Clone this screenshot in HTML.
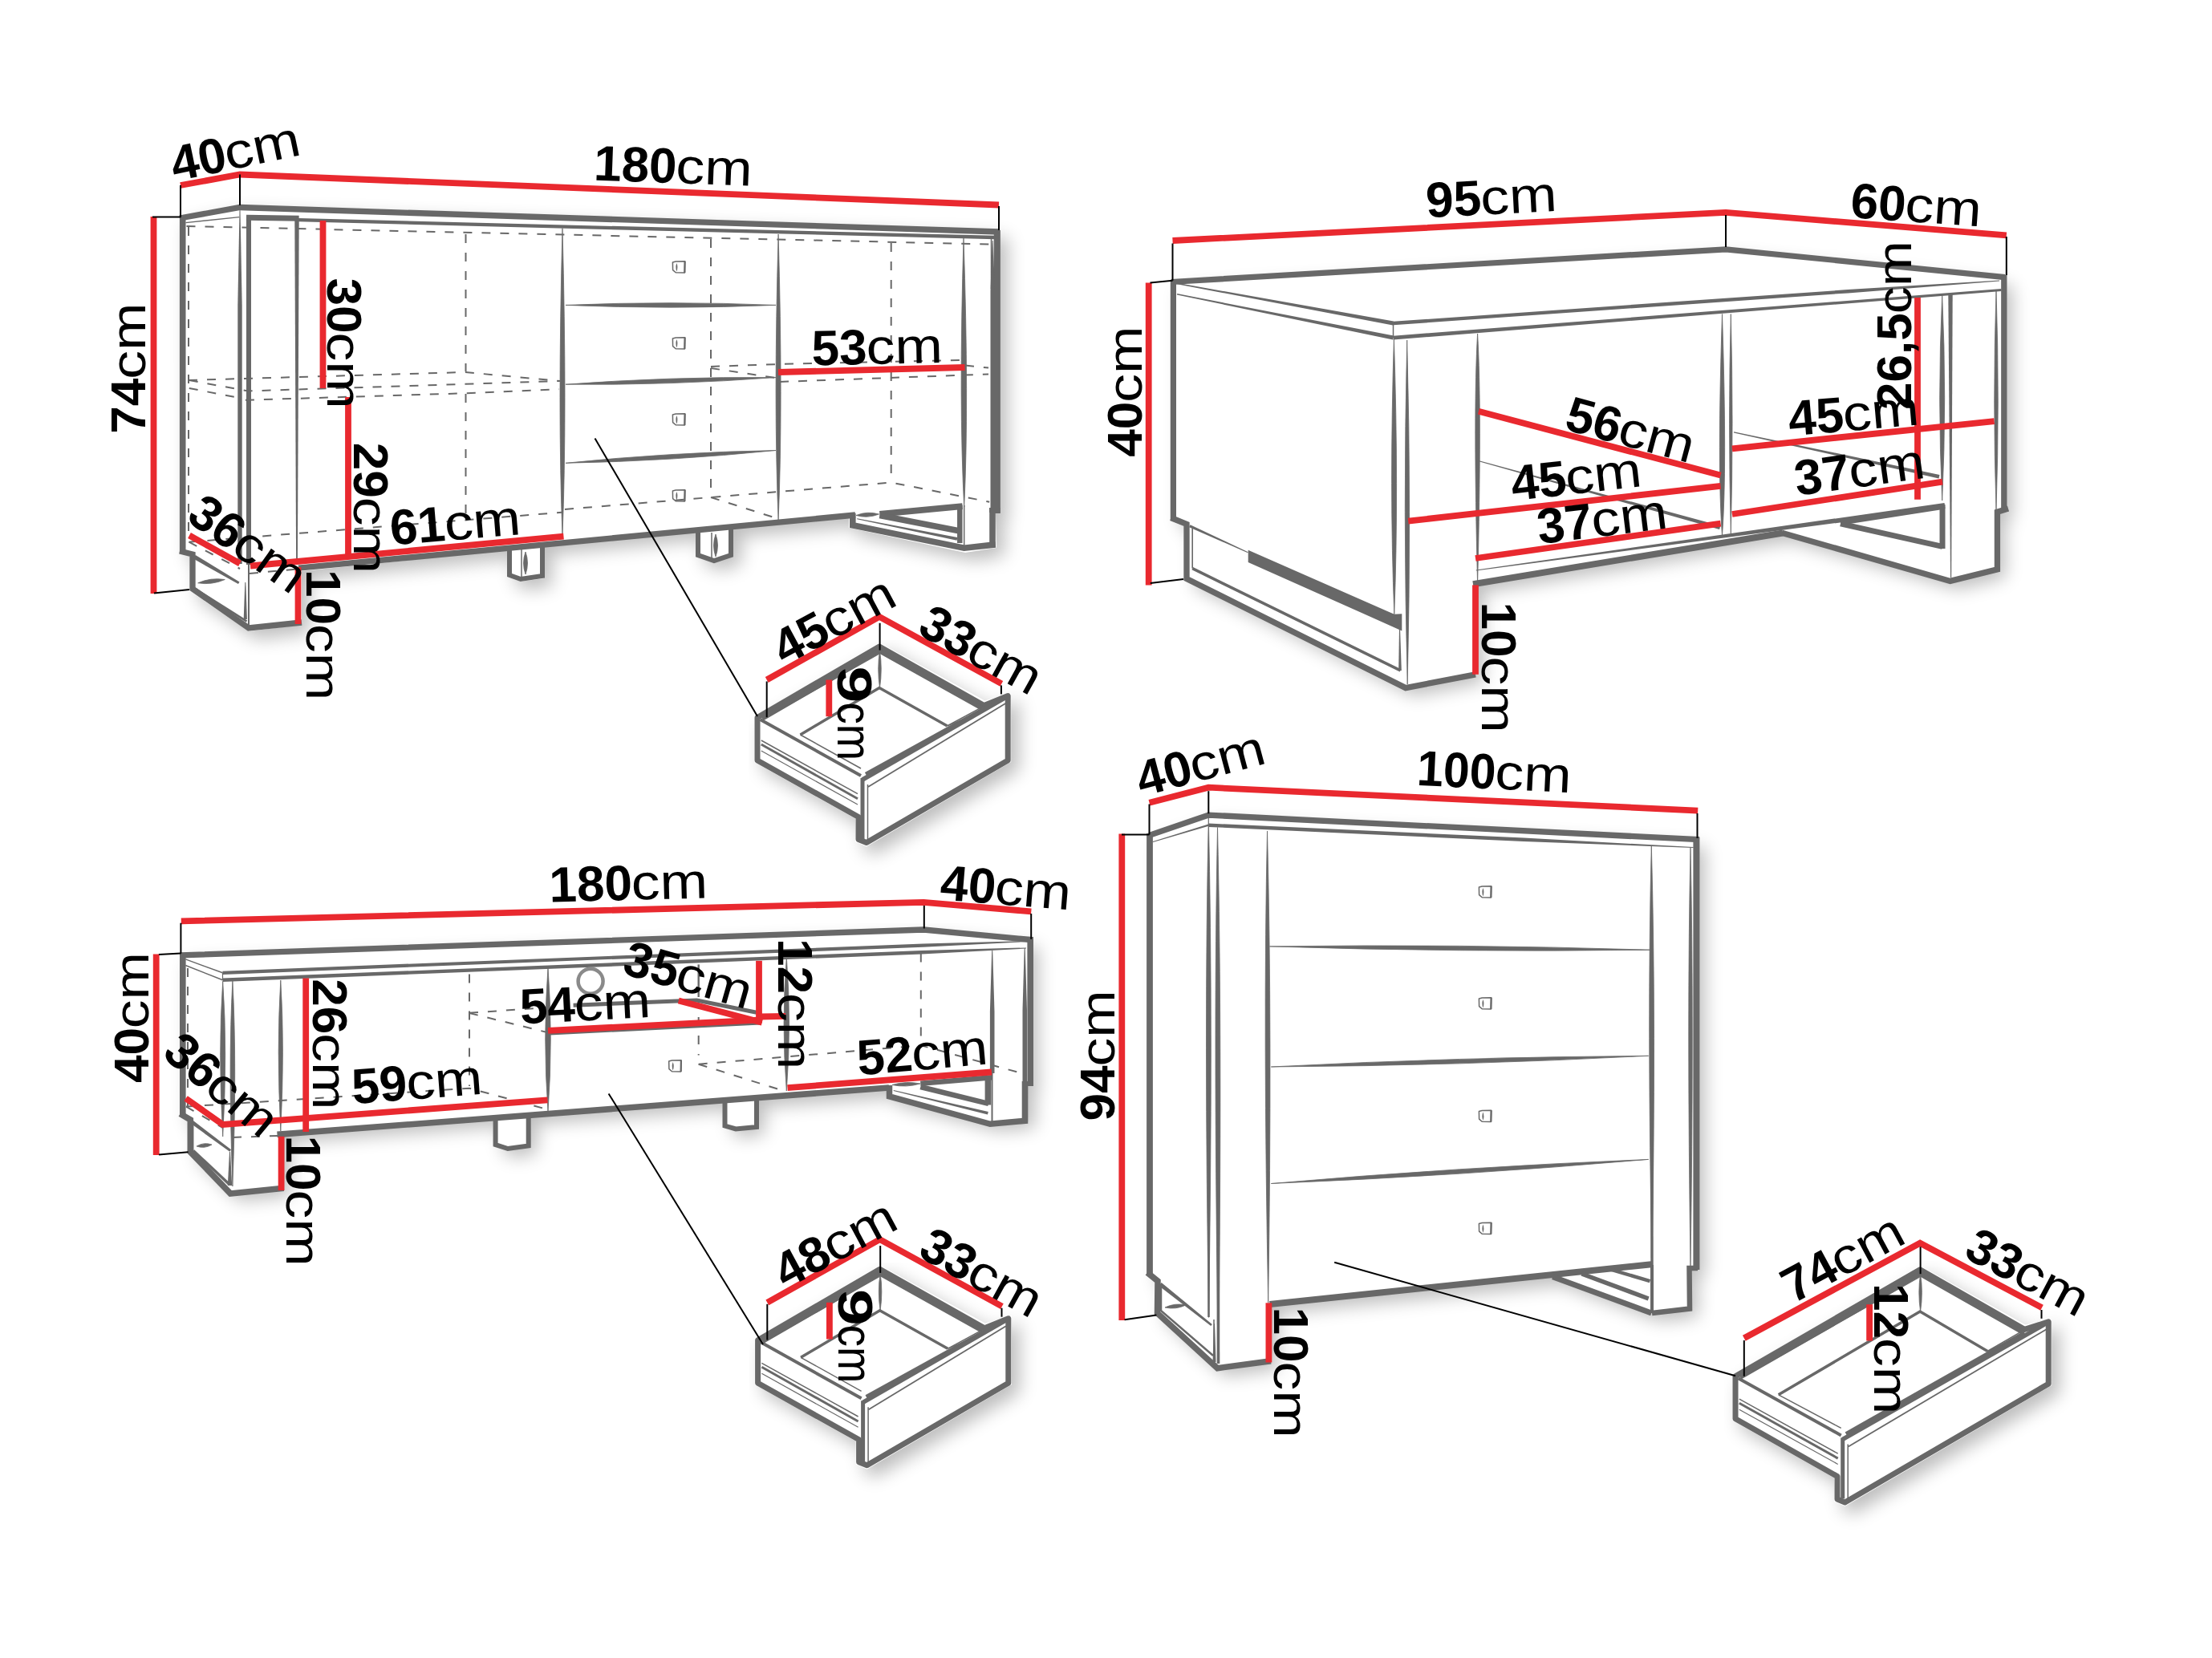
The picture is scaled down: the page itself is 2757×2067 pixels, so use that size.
<!DOCTYPE html><html><head><meta charset="utf-8"><title>dimensions</title><style>html,body{margin:0;padding:0;background:#fff}svg{display:block}text{font-family:"Liberation Sans",sans-serif;fill:#000}.b{font-weight:bold}.r{font-weight:normal}</style></head><body>
<svg width="2757" height="2067" viewBox="0 0 2757 2067">
<defs><filter id="sh" x="-5%" y="-5%" width="115%" height="120%"><feGaussianBlur in="SourceAlpha" stdDeviation="11"/><feOffset dx="10" dy="10"/><feComponentTransfer><feFuncA type="linear" slope="0.26"/></feComponentTransfer></filter></defs>
<rect width="2757" height="2067" fill="#fff"/>
<polygon points="224,269 299,255 1246,286 1246,640 1241,640 1242,683 1203,689 1058,658 1058,646 914,659 914,693 890,701 867,693 867,663 678,681 678,721 649,725 632,719 632,686 376,712 376,779 310,787 237,737 237,692 225,689" fill="#000" filter="url(#sh)"/>
<polygon points="940,893.5 1096,801 1227.5,873.5 1260.2,863.5 1260.2,950 1080,1055.5 1066,1049.5 1066,1020.5 940,950" fill="#000" filter="url(#sh)"/>
<polygon points="940.6,1669.8 1096.6,1577.3 1228.1,1649.8 1260.8,1639.8 1260.8,1726.3 1080.6,1831.8 1066.6,1825.8 1066.6,1796.8 940.6,1726.3" fill="#000" filter="url(#sh)"/>
<polygon points="2159,1714.7 2393.1,1577.8 2524.3,1651.4 2557.2,1643.9 2557.2,1727.2 2299.5,1878.1 2286,1872 2286,1842.6 2159,1770.7" fill="#000" filter="url(#sh)"/>
<polygon points="1462,351 2151,311 2498,346 2498,638 2489.4,638.2 2489.4,709.8 2430.7,724.4 2222,665 1839,728 1839,840.8 1752,857.6 1479,721.5 1479,653.4 1462,647" fill="#000" filter="url(#sh)"/>
<polygon points="1433,1041 1506,1016 2115,1046 2115,1581 2106,1581 2106,1632 2059,1637 1935,1592 1583,1627 1583,1697 1517,1705.7 1442.5,1637 1442.5,1597 1433,1589" fill="#000" filter="url(#sh)"/>
<polygon points="225,1190 1151,1158 1284,1171 1284,1354 1280,1354 1280,1396 1235,1400 1107,1367 1107,1358 943,1370 943,1404 917,1408 903,1404 903,1373 659,1391 659,1428 633,1433 617,1428 617,1394 352,1414 352,1481 288,1487 237,1437 237,1397 226,1392" fill="#000" filter="url(#sh)"/>
<polygon points="224,269 299,255 1246,286 1246,640 1241,640 1242,683 1203,689 1058,658 1058,646 914,659 914,693 890,701 867,693 867,663 678,681 678,721 649,725 632,719 632,686 376,712 376,779 310,787 237,737 237,692 225,689" fill="#fff"/>
<polygon points="940,893.5 1096,801 1227.5,873.5 1260.2,863.5 1260.2,950 1080,1055.5 1066,1049.5 1066,1020.5 940,950" fill="#fff"/>
<polygon points="940.6,1669.8 1096.6,1577.3 1228.1,1649.8 1260.8,1639.8 1260.8,1726.3 1080.6,1831.8 1066.6,1825.8 1066.6,1796.8 940.6,1726.3" fill="#fff"/>
<polygon points="2159,1714.7 2393.1,1577.8 2524.3,1651.4 2557.2,1643.9 2557.2,1727.2 2299.5,1878.1 2286,1872 2286,1842.6 2159,1770.7" fill="#fff"/>
<polygon points="1462,351 2151,311 2498,346 2498,638 2489.4,638.2 2489.4,709.8 2430.7,724.4 2222,665 1839,728 1839,840.8 1752,857.6 1479,721.5 1479,653.4 1462,647" fill="#fff"/>
<polygon points="1433,1041 1506,1016 2115,1046 2115,1581 2106,1581 2106,1632 2059,1637 1935,1592 1583,1627 1583,1697 1517,1705.7 1442.5,1637 1442.5,1597 1433,1589" fill="#fff"/>
<polygon points="225,1190 1151,1158 1284,1171 1284,1354 1280,1354 1280,1396 1235,1400 1107,1367 1107,1358 943,1370 943,1404 917,1408 903,1404 903,1373 659,1391 659,1428 633,1433 617,1428 617,1394 352,1414 352,1481 288,1487 237,1437 237,1397 226,1392" fill="#fff"/>
<g>
<polyline points="224,272 299,258.5 1246,289" fill="none" stroke="#686868" stroke-width="7.3" stroke-linejoin="miter" stroke-linecap="butt"/>
<line x1="227.7" y1="270" x2="227.7" y2="689" stroke="#686868" stroke-width="7.6" stroke-linecap="butt"/>
<line x1="1242.8" y1="287" x2="1242.8" y2="640" stroke="#686868" stroke-width="8.1" stroke-linecap="butt"/>
<polyline points="231.5,277.6 298.2,270.6" fill="none" stroke="#686868" stroke-width="1.4" stroke-linejoin="miter" stroke-linecap="butt"/>
<line x1="310" y1="704" x2="310" y2="271.3" stroke="#686868" stroke-width="6" stroke-linecap="butt"/>
<polygon points="367.3,272.3 369.1,702 370.9,702 372.7,272.3" fill="#686868"/>
<line x1="307" y1="271.3" x2="372.6" y2="272.3" stroke="#686868" stroke-width="7" stroke-linecap="butt"/>
<line x1="372" y1="274.2" x2="1240" y2="296" stroke="#686868" stroke-width="4.3" stroke-linecap="butt"/>
<line x1="372" y1="708.2" x2="1066" y2="642" stroke="#686868" stroke-width="7.3" stroke-linecap="butt"/>
<line x1="311" y1="715" x2="372" y2="709.3" stroke="#686868" stroke-width="2" stroke-linecap="butt" stroke-dasharray="11 12"/>
<polyline points="224,687 240,691 240,734 310,783 376,776" fill="none" stroke="#686868" stroke-width="7.3" stroke-linejoin="miter" stroke-linecap="butt"/>
<polygon points="240.9,696.6 296.9,728.1 298.5,725.5 243.7,692" fill="#686868"/>
<line x1="242.3" y1="733.4" x2="307.5" y2="774.6" stroke="#686868" stroke-width="2.7" stroke-linecap="butt"/>
<polygon points="305.3,726 303.7,772 307.9,772 306.3,726" fill="#686868"/>
<line x1="310" y1="704" x2="310" y2="781" stroke="#686868" stroke-width="2" stroke-linecap="butt"/>
<path d="M246.7,726.8 Q264.1,729.6 280.3,722.5 Q262.9,719.7 246.7,726.8Z" fill="#686868" stroke="#686868" stroke-width="0.8"/>
<polygon points="298.5,262 296.3,381.1 296.3,703 301.7,703 301.7,381.1 299.5,262" fill="#686868"/>
<path d="M701,284.5 Q695,514.6 701,668 Q707,514.6 701,284.5Z" fill="#686868" stroke="#686868" stroke-width="0.8"/>
<path d="M970.1,292 Q964.1,506 970.1,648.6 Q976.1,506 970.1,292Z" fill="#686868" stroke="#686868" stroke-width="0.8"/>
<path d="M1201,297 Q1194.9,504.7 1201.7,632 Q1207.9,504.7 1201,297Z" fill="#686868" stroke="#686868" stroke-width="0.8"/>
<line x1="1201.7" y1="630" x2="1201.7" y2="680" stroke="#686868" stroke-width="1.5" stroke-linecap="butt"/>
<line x1="1235.5" y1="296" x2="1235.5" y2="360" stroke="#686868" stroke-width="1.5" stroke-linecap="butt"/>
<polygon points="1236.7,300 1234.5,362.2 1234.5,636 1240,636 1240,362.2 1237.7,300" fill="#686868"/>
<path d="M705,380.4 Q836,385.9 967,380.4 Q836,374.9 705,380.4Z" fill="#686868" stroke="#686868" stroke-width="0.8"/>
<path d="M705,479.2 Q836.2,480.4 967,470.6 Q835.8,469.4 705,479.2Z" fill="#686868" stroke="#686868" stroke-width="0.8"/>
<path d="M705,577.3 Q836.3,574.9 967,561.5 Q835.7,563.9 705,577.3Z" fill="#686868" stroke="#686868" stroke-width="0.8"/>
<g transform="translate(846,333) scale(1.0)"><path d="M-7.6,-6 L-3.8,-7 L7.7,-7.2 L7.4,7 L-3.8,6.8 L-7.4,3.6 Z" fill="#fff" stroke="#686868" stroke-width="1.5" stroke-linejoin="round"/><path d="M7.6,-7.2 L7.3,7" stroke="#686868" stroke-width="2.2" fill="none"/><path d="M-2.6,-5 Q-0.6,0.2 -2.6,5.4 Q-4.6,0.2 -2.6,-5Z" fill="#686868"/></g>
<g transform="translate(846,428) scale(1.0)"><path d="M-7.6,-6 L-3.8,-7 L7.7,-7.2 L7.4,7 L-3.8,6.8 L-7.4,3.6 Z" fill="#fff" stroke="#686868" stroke-width="1.5" stroke-linejoin="round"/><path d="M7.6,-7.2 L7.3,7" stroke="#686868" stroke-width="2.2" fill="none"/><path d="M-2.6,-5 Q-0.6,0.2 -2.6,5.4 Q-4.6,0.2 -2.6,-5Z" fill="#686868"/></g>
<g transform="translate(846,523) scale(1.0)"><path d="M-7.6,-6 L-3.8,-7 L7.7,-7.2 L7.4,7 L-3.8,6.8 L-7.4,3.6 Z" fill="#fff" stroke="#686868" stroke-width="1.5" stroke-linejoin="round"/><path d="M7.6,-7.2 L7.3,7" stroke="#686868" stroke-width="2.2" fill="none"/><path d="M-2.6,-5 Q-0.6,0.2 -2.6,5.4 Q-4.6,0.2 -2.6,-5Z" fill="#686868"/></g>
<g transform="translate(846,618) scale(1.0)"><path d="M-7.6,-6 L-3.8,-7 L7.7,-7.2 L7.4,7 L-3.8,6.8 L-7.4,3.6 Z" fill="#fff" stroke="#686868" stroke-width="1.5" stroke-linejoin="round"/><path d="M7.6,-7.2 L7.3,7" stroke="#686868" stroke-width="2.2" fill="none"/><path d="M-2.6,-5 Q-0.6,0.2 -2.6,5.4 Q-4.6,0.2 -2.6,-5Z" fill="#686868"/></g>
<polyline points="635,682 635,717 649,722 676,718 676,680" fill="none" stroke="#686868" stroke-width="6" stroke-linejoin="miter" stroke-linecap="butt"/>
<line x1="650" y1="684" x2="650" y2="720" stroke="#686868" stroke-width="1.5" stroke-linecap="butt"/>
<path d="M655,688 Q650,702 655,716 Q660,702 655,688Z" fill="#686868" stroke="#686868" stroke-width="0.8"/>
<polyline points="870,661 870,692 890,699 911,692 911,658" fill="none" stroke="#686868" stroke-width="6" stroke-linejoin="miter" stroke-linecap="butt"/>
<line x1="887" y1="664" x2="887" y2="697" stroke="#686868" stroke-width="1.5" stroke-linecap="butt"/>
<path d="M892,666 Q887,680 892,694 Q897,680 892,666Z" fill="#686868" stroke="#686868" stroke-width="0.8"/>
<polyline points="1062.8,640 1062.8,654.8 1201.7,683.2 1240.8,678.9" fill="none" stroke="#686868" stroke-width="7.6" stroke-linejoin="miter" stroke-linecap="butt"/>
<line x1="1237" y1="633.3" x2="1237" y2="681" stroke="#686868" stroke-width="7.6" stroke-linecap="butt"/>
<line x1="1233" y1="636" x2="1246.5" y2="636" stroke="#686868" stroke-width="6" stroke-linecap="butt"/>
<line x1="1096.4" y1="640.9" x2="1199.6" y2="631.1" stroke="#686868" stroke-width="7.6" stroke-linecap="butt"/>
<line x1="1196.3" y1="629.5" x2="1196.3" y2="677" stroke="#686868" stroke-width="6.5" stroke-linecap="butt"/>
<line x1="1096.4" y1="642.5" x2="1196.3" y2="662" stroke="#686868" stroke-width="7.6" stroke-linecap="butt"/>
<polygon points="1068.1,647.3 1192.6,673.7 1193.4,669.9 1068.3,646.3" fill="#686868"/>
<path d="M1067,642.5 Q1081.5,646.7 1095.5,641 Q1081,636.8 1067,642.5Z" fill="#686868" stroke="#686868" stroke-width="0.8"/>
<polyline points="232.5,282 1234,304.5" fill="none" stroke="#686868" stroke-width="2" stroke-linejoin="miter" stroke-linecap="butt" stroke-dasharray="11 12"/>
<line x1="235" y1="283" x2="235" y2="668" stroke="#686868" stroke-width="2" stroke-linecap="butt" stroke-dasharray="11 12"/>
<line x1="580.5" y1="292" x2="580.5" y2="463" stroke="#686868" stroke-width="2" stroke-linecap="butt" stroke-dasharray="11 12"/>
<line x1="580.5" y1="491" x2="580.5" y2="648" stroke="#686868" stroke-width="2" stroke-linecap="butt" stroke-dasharray="11 12"/>
<polyline points="235,474 580,464 698,475" fill="none" stroke="#686868" stroke-width="2" stroke-linejoin="miter" stroke-linecap="butt" stroke-dasharray="11 12"/>
<polyline points="235.8,484 294.6,495.4" fill="none" stroke="#686868" stroke-width="2" stroke-linejoin="miter" stroke-linecap="butt" stroke-dasharray="11 12"/>
<polyline points="305.9,498.8 580.5,490.2 697,485.2" fill="none" stroke="#686868" stroke-width="2" stroke-linejoin="miter" stroke-linecap="butt" stroke-dasharray="11 12"/>
<polyline points="235.8,474 309.3,487.5 697,475" fill="none" stroke="#686868" stroke-width="2" stroke-linejoin="miter" stroke-linecap="butt" stroke-dasharray="11 12"/>
<polyline points="235.5,675.7 700,638.8" fill="none" stroke="#686868" stroke-width="2" stroke-linejoin="miter" stroke-linecap="butt" stroke-dasharray="11 12"/>
<polyline points="235.5,675.7 299,709" fill="none" stroke="#686868" stroke-width="2" stroke-linejoin="miter" stroke-linecap="butt" stroke-dasharray="11 12"/>
<line x1="886" y1="298" x2="886" y2="620" stroke="#686868" stroke-width="2" stroke-linecap="butt" stroke-dasharray="11 12"/>
<line x1="1110.7" y1="303" x2="1110.7" y2="601" stroke="#686868" stroke-width="2" stroke-linecap="butt" stroke-dasharray="11 12"/>
<polyline points="704,635 886,620 1110.7,601.5 1233.2,625.7" fill="none" stroke="#686868" stroke-width="2" stroke-linejoin="miter" stroke-linecap="butt" stroke-dasharray="11 12"/>
<polyline points="886,620 966,645.5" fill="none" stroke="#686868" stroke-width="2" stroke-linejoin="miter" stroke-linecap="butt" stroke-dasharray="11 12"/>
<polyline points="886,457 970,454 1201,449" fill="none" stroke="#686868" stroke-width="2" stroke-linejoin="miter" stroke-linecap="butt" stroke-dasharray="11 12"/>
<polyline points="886,459 970,471.5" fill="none" stroke="#686868" stroke-width="2" stroke-linejoin="miter" stroke-linecap="butt" stroke-dasharray="11 12"/>
<polyline points="972,476 1232,466.5" fill="none" stroke="#686868" stroke-width="2" stroke-linejoin="miter" stroke-linecap="butt" stroke-dasharray="11 12"/>
<polyline points="1203,455.5 1232,458.6" fill="none" stroke="#686868" stroke-width="2" stroke-linejoin="miter" stroke-linecap="butt" stroke-dasharray="11 12"/>
<polygon points="944,894.5 1096,806 1226.5,879.5 1256.2,867.5 1256.2,948 1080,1050.5 1070,1046.5 1070,1018.5 944,948" fill="none" stroke="#686868" stroke-width="7" stroke-linejoin="round" stroke-linecap="butt"/>
<polyline points="950,896 1096,811.5 1224,883" fill="none" stroke="#686868" stroke-width="5.5" stroke-linejoin="miter" stroke-linecap="butt"/>
<polyline points="997.5,916 1096,857.5 1180.6,905" fill="none" stroke="#686868" stroke-width="3.5" stroke-linejoin="miter" stroke-linecap="butt"/>
<path d="M1096.5,811 Q1093,834.2 1096.5,857.5 Q1100,834.2 1096.5,811Z" fill="#686868" stroke="#686868" stroke-width="0.8"/>
<line x1="956" y1="894" x2="1096" y2="815" stroke="#686868" stroke-width="1.2" stroke-linecap="butt"/>
<line x1="947.5" y1="897" x2="1073" y2="967" stroke="#686868" stroke-width="4" stroke-linecap="butt"/>
<line x1="948.8" y1="923" x2="1069" y2="989.7" stroke="#686868" stroke-width="1.5" stroke-linecap="butt"/>
<line x1="948.8" y1="928" x2="1069" y2="995.7" stroke="#686868" stroke-width="3" stroke-linecap="butt"/>
<line x1="948.8" y1="936" x2="1069" y2="1003" stroke="#686868" stroke-width="1.2" stroke-linecap="butt"/>
<line x1="997.5" y1="916" x2="1073" y2="958" stroke="#686868" stroke-width="1.5" stroke-linecap="butt"/>
<line x1="1079" y1="965" x2="1226.5" y2="883.5" stroke="#686868" stroke-width="4.5" stroke-linecap="butt"/>
<line x1="1075" y1="972" x2="1253.2" y2="869.5" stroke="#686868" stroke-width="5.5" stroke-linecap="butt"/>
<line x1="1082" y1="981" x2="1253.2" y2="877" stroke="#686868" stroke-width="1.8" stroke-linecap="butt"/>
<line x1="1075" y1="970" x2="1075" y2="1046" stroke="#686868" stroke-width="5" stroke-linecap="butt"/>
<line x1="1081.5" y1="978" x2="1081.5" y2="1048" stroke="#686868" stroke-width="1.5" stroke-linecap="butt"/>
<line x1="1180.6" y1="905" x2="1222.5" y2="882.3" stroke="#686868" stroke-width="1.5" stroke-linecap="butt"/>
<line x1="1180.6" y1="905" x2="1226.5" y2="886" stroke="#686868" stroke-width="1.2" stroke-linecap="butt"/>
<polygon points="944.6,1670.8 1096.6,1582.3 1227.1,1655.8 1256.8,1643.8 1256.8,1724.3 1080.6,1826.8 1070.6,1822.8 1070.6,1794.8 944.6,1724.3" fill="none" stroke="#686868" stroke-width="7" stroke-linejoin="round" stroke-linecap="butt"/>
<polyline points="950.6,1672.3 1096.6,1587.8 1224.6,1659.3" fill="none" stroke="#686868" stroke-width="5.5" stroke-linejoin="miter" stroke-linecap="butt"/>
<polyline points="998.1,1692.3 1096.6,1633.8 1181.2,1681.3" fill="none" stroke="#686868" stroke-width="3.5" stroke-linejoin="miter" stroke-linecap="butt"/>
<path d="M1097.1,1587.3 Q1093.6,1610.5 1097.1,1633.8 Q1100.6,1610.5 1097.1,1587.3Z" fill="#686868" stroke="#686868" stroke-width="0.8"/>
<line x1="956.6" y1="1670.3" x2="1096.6" y2="1591.3" stroke="#686868" stroke-width="1.2" stroke-linecap="butt"/>
<line x1="948.1" y1="1673.3" x2="1073.6" y2="1743.3" stroke="#686868" stroke-width="4" stroke-linecap="butt"/>
<line x1="949.4" y1="1699.3" x2="1069.6" y2="1766" stroke="#686868" stroke-width="1.5" stroke-linecap="butt"/>
<line x1="949.4" y1="1704.3" x2="1069.6" y2="1772" stroke="#686868" stroke-width="3" stroke-linecap="butt"/>
<line x1="949.4" y1="1712.3" x2="1069.6" y2="1779.3" stroke="#686868" stroke-width="1.2" stroke-linecap="butt"/>
<line x1="998.1" y1="1692.3" x2="1073.6" y2="1734.3" stroke="#686868" stroke-width="1.5" stroke-linecap="butt"/>
<line x1="1079.6" y1="1741.3" x2="1227.1" y2="1659.8" stroke="#686868" stroke-width="4.5" stroke-linecap="butt"/>
<line x1="1075.6" y1="1748.3" x2="1253.8" y2="1645.8" stroke="#686868" stroke-width="5.5" stroke-linecap="butt"/>
<line x1="1082.6" y1="1757.3" x2="1253.8" y2="1653.3" stroke="#686868" stroke-width="1.8" stroke-linecap="butt"/>
<line x1="1075.6" y1="1746.3" x2="1075.6" y2="1822.3" stroke="#686868" stroke-width="5" stroke-linecap="butt"/>
<line x1="1082.1" y1="1754.3" x2="1082.1" y2="1824.3" stroke="#686868" stroke-width="1.5" stroke-linecap="butt"/>
<line x1="1181.2" y1="1681.3" x2="1223.1" y2="1658.6" stroke="#686868" stroke-width="1.5" stroke-linecap="butt"/>
<line x1="1181.2" y1="1681.3" x2="1227.1" y2="1662.3" stroke="#686868" stroke-width="1.2" stroke-linecap="butt"/>
<polygon points="2163,1715.7 2393.1,1582.8 2523.3,1657.4 2553.2,1647.9 2553.2,1725.2 2299.5,1873.1 2290,1869 2290,1840.6 2163,1768.7" fill="none" stroke="#686868" stroke-width="7" stroke-linejoin="round" stroke-linecap="butt"/>
<polyline points="2169,1717.2 2393.1,1588.3 2520.8,1660.9" fill="none" stroke="#686868" stroke-width="5.5" stroke-linejoin="miter" stroke-linecap="butt"/>
<polyline points="2216.7,1738.8 2393.1,1635.1 2477.2,1684.5" fill="none" stroke="#686868" stroke-width="3.5" stroke-linejoin="miter" stroke-linecap="butt"/>
<path d="M2393.6,1587.8 Q2390.1,1611.4 2393.6,1635.1 Q2397.1,1611.4 2393.6,1587.8Z" fill="#686868" stroke="#686868" stroke-width="0.8"/>
<line x1="2175" y1="1715.2" x2="2393.1" y2="1591.8" stroke="#686868" stroke-width="1.2" stroke-linecap="butt"/>
<line x1="2166.5" y1="1718.2" x2="2294.7" y2="1789.4" stroke="#686868" stroke-width="4" stroke-linecap="butt"/>
<line x1="2167.8" y1="1744.2" x2="2290.7" y2="1812.1" stroke="#686868" stroke-width="1.5" stroke-linecap="butt"/>
<line x1="2167.8" y1="1749.2" x2="2290.7" y2="1818.1" stroke="#686868" stroke-width="3" stroke-linecap="butt"/>
<line x1="2167.8" y1="1757.2" x2="2290.7" y2="1825.4" stroke="#686868" stroke-width="1.2" stroke-linecap="butt"/>
<line x1="2216.7" y1="1738.8" x2="2294.7" y2="1780.4" stroke="#686868" stroke-width="1.5" stroke-linecap="butt"/>
<line x1="2300.7" y1="1787.4" x2="2523.3" y2="1661.4" stroke="#686868" stroke-width="4.5" stroke-linecap="butt"/>
<line x1="2296.7" y1="1794.4" x2="2550.2" y2="1649.9" stroke="#686868" stroke-width="5.5" stroke-linecap="butt"/>
<line x1="2303.7" y1="1803.4" x2="2550.2" y2="1657.4" stroke="#686868" stroke-width="1.8" stroke-linecap="butt"/>
<line x1="2296.7" y1="1792.4" x2="2296.7" y2="1868.5" stroke="#686868" stroke-width="5" stroke-linecap="butt"/>
<line x1="2303.2" y1="1800.4" x2="2303.2" y2="1870.6" stroke="#686868" stroke-width="1.5" stroke-linecap="butt"/>
<line x1="2477.2" y1="1684.5" x2="2519.3" y2="1660.2" stroke="#686868" stroke-width="1.5" stroke-linecap="butt"/>
<line x1="2477.2" y1="1684.5" x2="2523.3" y2="1663.9" stroke="#686868" stroke-width="1.2" stroke-linecap="butt"/>
<polyline points="1459.7,351.5 2151,310.8 2499,345.6" fill="none" stroke="#686868" stroke-width="7.2" stroke-linejoin="miter" stroke-linecap="butt"/>
<line x1="1462.4" y1="349" x2="1462.4" y2="648" stroke="#686868" stroke-width="7.2" stroke-linecap="butt"/>
<polyline points="1459.5,645.5 1479,653.4 1479,721.5 1752,857.6 1839,840.8" fill="none" stroke="#686868" stroke-width="7.3" stroke-linejoin="miter" stroke-linecap="butt"/>
<line x1="2497.8" y1="343" x2="2497.8" y2="638" stroke="#686868" stroke-width="7.3" stroke-linecap="butt"/>
<polyline points="2503,634 2489.4,638.2 2489.4,709.8 2430.7,724.4 2220.7,664.2" fill="none" stroke="#686868" stroke-width="7.3" stroke-linejoin="miter" stroke-linecap="butt"/>
<polygon points="1465.9,354 1736,405.6 1737,400.4 1466.1,352.6" fill="#686868"/>
<polygon points="1466.9,367.5 1736,423.6 1737,418.6 1467.1,366.1" fill="#686868"/>
<polygon points="2492,349.4 2303,361.1 1736.3,400.8 1736.7,405.2 2303.3,365.4 2492,350.6" fill="#686868"/>
<polygon points="1736.7,423.5 2494.6,363 2494.4,360 1736.3,418.7" fill="#686868"/>
<line x1="1736.5" y1="402" x2="1736.5" y2="421" stroke="#686868" stroke-width="1.5" stroke-linecap="butt"/>
<path d="M1737.4,422 Q1731.6,611.1 1737.8,765.8 Q1743.6,611.1 1737.4,422Z" fill="#686868" stroke="#686868" stroke-width="0.8"/>
<path d="M1753.7,424 Q1748.6,638.5 1754.2,853 Q1759.3,638.5 1753.7,424Z" fill="#686868" stroke="#686868" stroke-width="0.8"/>
<path d="M1841.6,416 Q1836.1,509.6 1841.6,728 Q1847.1,509.6 1841.6,416Z" fill="#686868" stroke="#686868" stroke-width="0.8"/>
<path d="M2146.5,391.5 Q2140.2,585 2146.5,668 Q2152.8,585 2146.5,391.5Z" fill="#686868" stroke="#686868" stroke-width="0.8"/>
<path d="M2157.3,391.5 Q2153.8,528.5 2157.3,665.4 Q2160.8,528.5 2157.3,391.5Z" fill="#686868" stroke="#686868" stroke-width="0.8"/>
<path d="M2420.7,367.8 Q2414.7,495.9 2420.7,624 Q2426.7,495.9 2420.7,367.8Z" fill="#686868" stroke="#686868" stroke-width="0.8"/>
<polygon points="2428.3,366 2431,720 2432.2,720 2433.7,366" fill="#686868"/>
<path d="M2488,361.5 Q2483.5,499.2 2488,637 Q2492.5,499.2 2488,361.5Z" fill="#686868" stroke="#686868" stroke-width="0.8"/>
<polygon points="1839.9,711.6 2424.5,634 2423.5,627 1839.7,710.4" fill="#686868"/>
<line x1="1836" y1="728.2" x2="2222" y2="664.5" stroke="#686868" stroke-width="8" stroke-linecap="butt"/>
<line x1="2294" y1="651.2" x2="2421" y2="631.6" stroke="#686868" stroke-width="7" stroke-linecap="butt"/>
<line x1="2421" y1="629" x2="2421" y2="684" stroke="#686868" stroke-width="7" stroke-linecap="butt"/>
<line x1="2294" y1="652.8" x2="2421" y2="681.3" stroke="#686868" stroke-width="7" stroke-linecap="butt"/>
<polygon points="1842.3,575.1 2143.1,659.9 2144.3,655.5 1842.7,573.9" fill="#686868"/>
<polygon points="2160.9,539.4 2416.5,596.5 2417.5,591.9 2161.1,538.2" fill="#686868"/>
<line x1="1486.2" y1="658.8" x2="1486.2" y2="708.6" stroke="#686868" stroke-width="1.6" stroke-linecap="butt"/>
<line x1="1486.2" y1="708.6" x2="1745.5" y2="835.9" stroke="#686868" stroke-width="3.6" stroke-linecap="butt"/>
<polygon points="1744,782.2 1743.2,836 1746.8,836 1745,782.2" fill="#686868"/>
<polygon points="1482.1,657.3 1555.2,689.2 1555.6,688.2 1483.5,654.3" fill="#686868"/>
<polygon points="1555.7,685.7 1555.7,700.9 1747.3,786.4 1747.3,765.2 1737.8,765.8" fill="#686868"/>
<polyline points="1432.5,1041.4 1506.3,1016.1 2118,1046.7" fill="none" stroke="#686868" stroke-width="7.3" stroke-linejoin="miter" stroke-linecap="butt"/>
<line x1="1433" y1="1039" x2="1433" y2="1590" stroke="#686868" stroke-width="7.8" stroke-linecap="butt"/>
<line x1="2114.4" y1="1044" x2="2114.4" y2="1583" stroke="#686868" stroke-width="8" stroke-linecap="butt"/>
<polygon points="1437.1,1050.1 1506.6,1029.8 1506,1027.6 1436.9,1049.1" fill="#686868"/>
<polygon points="2110.6,1056.1 1899.2,1044.5 1506.4,1026.5 1506.2,1030.9 1899,1049 2110.6,1056.9" fill="#686868"/>
<path d="M1506.3,1019.7 Q1500.6,1281.2 1506.5,1642.4 Q1512.2,1281.2 1506.3,1019.7Z" fill="#686868" stroke="#686868" stroke-width="0.8"/>
<line x1="1506.5" y1="1300" x2="1506.5" y2="1642" stroke="#686868" stroke-width="2.6" stroke-linecap="butt"/>
<path d="M1517.5,1031.5 Q1512.1,1298.9 1518.5,1700 Q1523.7,1298.9 1517.5,1031.5Z" fill="#686868" stroke="#686868" stroke-width="0.8"/>
<line x1="1518.2" y1="1300" x2="1518.5" y2="1700" stroke="#686868" stroke-width="3.6" stroke-linecap="butt"/>
<path d="M1579.5,1036 Q1574.2,1283.1 1580.7,1624.3 Q1585.8,1283.1 1579.5,1036Z" fill="#686868" stroke="#686868" stroke-width="0.8"/>
<path d="M2058.3,1054 Q2052.8,1273.8 2059,1577.3 Q2064.4,1273.8 2058.3,1054Z" fill="#686868" stroke="#686868" stroke-width="0.8"/>
<line x1="2058.7" y1="1300" x2="2059" y2="1577" stroke="#686868" stroke-width="3.4" stroke-linecap="butt"/>
<path d="M2107,1056.5 Q2102.5,1265.9 2107,1580 Q2111.5,1265.9 2107,1056.5Z" fill="#686868" stroke="#686868" stroke-width="0.8"/>
<path d="M1582.5,1179.9 Q1819.5,1187.5 2056.5,1184.2 Q1819.5,1176.6 1582.5,1179.9Z" fill="#686868" stroke="#686868" stroke-width="0.8"/>
<path d="M1584.3,1330 Q1819.7,1328.6 2054.7,1316.3 Q1819.3,1317.7 1584.3,1330Z" fill="#686868" stroke="#686868" stroke-width="0.8"/>
<path d="M1584.3,1475.5 Q1819.9,1465.9 2054.7,1445.4 Q1819.1,1455 1584.3,1475.5Z" fill="#686868" stroke="#686868" stroke-width="0.8"/>
<g transform="translate(1851,1112) scale(1.0)"><path d="M-7.6,-6 L-3.8,-7 L7.7,-7.2 L7.4,7 L-3.8,6.8 L-7.4,3.6 Z" fill="#fff" stroke="#686868" stroke-width="1.5" stroke-linejoin="round"/><path d="M7.6,-7.2 L7.3,7" stroke="#686868" stroke-width="2.2" fill="none"/><path d="M-2.6,-5 Q-0.6,0.2 -2.6,5.4 Q-4.6,0.2 -2.6,-5Z" fill="#686868"/></g>
<g transform="translate(1851,1251) scale(1.0)"><path d="M-7.6,-6 L-3.8,-7 L7.7,-7.2 L7.4,7 L-3.8,6.8 L-7.4,3.6 Z" fill="#fff" stroke="#686868" stroke-width="1.5" stroke-linejoin="round"/><path d="M7.6,-7.2 L7.3,7" stroke="#686868" stroke-width="2.2" fill="none"/><path d="M-2.6,-5 Q-0.6,0.2 -2.6,5.4 Q-4.6,0.2 -2.6,-5Z" fill="#686868"/></g>
<g transform="translate(1851,1391.5) scale(1.0)"><path d="M-7.6,-6 L-3.8,-7 L7.7,-7.2 L7.4,7 L-3.8,6.8 L-7.4,3.6 Z" fill="#fff" stroke="#686868" stroke-width="1.5" stroke-linejoin="round"/><path d="M7.6,-7.2 L7.3,7" stroke="#686868" stroke-width="2.2" fill="none"/><path d="M-2.6,-5 Q-0.6,0.2 -2.6,5.4 Q-4.6,0.2 -2.6,-5Z" fill="#686868"/></g>
<g transform="translate(1851,1531.5) scale(1.0)"><path d="M-7.6,-6 L-3.8,-7 L7.7,-7.2 L7.4,7 L-3.8,6.8 L-7.4,3.6 Z" fill="#fff" stroke="#686868" stroke-width="1.5" stroke-linejoin="round"/><path d="M7.6,-7.2 L7.3,7" stroke="#686868" stroke-width="2.2" fill="none"/><path d="M-2.6,-5 Q-0.6,0.2 -2.6,5.4 Q-4.6,0.2 -2.6,-5Z" fill="#686868"/></g>
<polyline points="1430,1586.5 1443,1597 1442.5,1637 1517.4,1705.7 1584,1696.7" fill="none" stroke="#686868" stroke-width="7.5" stroke-linejoin="miter" stroke-linecap="butt"/>
<line x1="1582.5" y1="1626" x2="2058.3" y2="1576.2" stroke="#686868" stroke-width="8" stroke-linecap="butt"/>
<polyline points="2116,1581 2105.5,1581 2106,1631.6 2059,1637" fill="none" stroke="#686868" stroke-width="6.5" stroke-linejoin="miter" stroke-linecap="butt"/>
<line x1="2059" y1="1577" x2="2059" y2="1637" stroke="#686868" stroke-width="4" stroke-linecap="butt"/>
<line x1="1935.3" y1="1591.8" x2="2058.3" y2="1637" stroke="#686868" stroke-width="7" stroke-linecap="butt"/>
<line x1="1971.4" y1="1588" x2="2054.7" y2="1619" stroke="#686868" stroke-width="5.5" stroke-linecap="butt"/>
<line x1="2007.6" y1="1582.7" x2="2056.5" y2="1597.2" stroke="#686868" stroke-width="4.5" stroke-linecap="butt"/>
<polyline points="1447,1603 1447,1634 1512,1690" fill="none" stroke="#686868" stroke-width="2.5" stroke-linejoin="miter" stroke-linecap="butt"/>
<path d="M1452,1630 Q1465.5,1633 1478,1627 Q1464.5,1624 1452,1630Z" fill="#686868" stroke="#686868" stroke-width="0.8"/>
<line x1="1513" y1="1645" x2="1513" y2="1700" stroke="#686868" stroke-width="1.5" stroke-linecap="butt"/>
<polygon points="1444.4,1603 1509.2,1653 1510.8,1651 1447.6,1599" fill="#686868"/>
<polygon points="1513,1650 1511.5,1698 1515.5,1698 1514,1650" fill="#686868"/>
<polyline points="225,1190.9 1151.2,1159 1284,1171.5" fill="none" stroke="#686868" stroke-width="7.3" stroke-linejoin="miter" stroke-linecap="butt"/>
<line x1="227.8" y1="1188" x2="227.8" y2="1392" stroke="#686868" stroke-width="7.6" stroke-linecap="butt"/>
<polyline points="224.5,1388.5 237.3,1396 237.3,1436.2 287.2,1488 353.7,1481.3" fill="none" stroke="#686868" stroke-width="7.6" stroke-linejoin="miter" stroke-linecap="butt"/>
<line x1="1284.2" y1="1168" x2="1284.2" y2="1354" stroke="#686868" stroke-width="7.6" stroke-linecap="butt"/>
<line x1="231.3" y1="1195.9" x2="277.5" y2="1212.8" stroke="#686868" stroke-width="1.5" stroke-linecap="butt"/>
<line x1="231.3" y1="1203.5" x2="277.5" y2="1221.8" stroke="#686868" stroke-width="1.5" stroke-linecap="butt"/>
<line x1="277.5" y1="1212.8" x2="277.5" y2="1221.8" stroke="#686868" stroke-width="1.2" stroke-linecap="butt"/>
<polygon points="1281,1173 1150.5,1176.5 277.4,1210.7 277.6,1214.9 1150.6,1180.7 1281,1174" fill="#686868"/>
<polygon points="1279,1181.4 1148.7,1185 277.4,1219.6 277.6,1224 1148.9,1189.4 1279,1182.6" fill="#686868"/>
<path d="M277.7,1223.4 Q271.7,1310.5 277.7,1417 Q283.7,1310.5 277.7,1223.4Z" fill="#686868" stroke="#686868" stroke-width="0.8"/>
<path d="M289.9,1223 Q284.3,1325.4 289.9,1479 Q295.5,1325.4 289.9,1223Z" fill="#686868" stroke="#686868" stroke-width="0.8"/>
<path d="M349.8,1222 Q344.6,1306.6 349.8,1410 Q355,1306.6 349.8,1222Z" fill="#686868" stroke="#686868" stroke-width="0.8"/>
<polygon points="286,1436 283.8,1478 289.2,1478 287,1436" fill="#686868"/>
<polygon points="238.3,1401.1 286.3,1435.7 288.1,1433.3 241.1,1397.3" fill="#686868"/>
<line x1="239.7" y1="1400.6" x2="239.7" y2="1434.5" stroke="#686868" stroke-width="3.4" stroke-linecap="butt"/>
<line x1="241" y1="1434.5" x2="285.8" y2="1476.5" stroke="#686868" stroke-width="3.4" stroke-linecap="butt"/>
<path d="M245,1429 Q255,1432.5 264,1427 Q254,1423.5 245,1429Z" fill="#686868" stroke="#686868" stroke-width="0.8"/>
<path d="M683,1206 Q676.5,1296 683,1386 Q689.5,1296 683,1206Z" fill="#686868" stroke="#686868" stroke-width="0.8"/>
<circle cx="736.1" cy="1223.2" r="15.5" fill="none" stroke="#8a8a8a" stroke-width="4.5"/>
<polyline points="714.6,1253.2 868.4,1247.1 943,1262.3" fill="none" stroke="#686868" stroke-width="5" stroke-linejoin="miter" stroke-linecap="butt"/>
<line x1="685" y1="1288.5" x2="948" y2="1275.5" stroke="#686868" stroke-width="4" stroke-linecap="butt"/>
<path d="M980.3,1193 Q973.8,1276.5 980.3,1360 Q986.8,1276.5 980.3,1193Z" fill="#686868" stroke="#686868" stroke-width="0.8"/>
<line x1="870.7" y1="1202.4" x2="870.7" y2="1243" stroke="#686868" stroke-width="2.4" stroke-linecap="butt"/>
<g transform="translate(841.3,1329) scale(1.0)"><path d="M-7.6,-6 L-3.8,-7 L7.7,-7.2 L7.4,7 L-3.8,6.8 L-7.4,3.6 Z" fill="#fff" stroke="#686868" stroke-width="1.5" stroke-linejoin="round"/><path d="M7.6,-7.2 L7.3,7" stroke="#686868" stroke-width="2.2" fill="none"/><path d="M-2.6,-5 Q-0.6,0.2 -2.6,5.4 Q-4.6,0.2 -2.6,-5Z" fill="#686868"/></g>
<line x1="345.5" y1="1414.4" x2="1108" y2="1356" stroke="#686868" stroke-width="7.6" stroke-linecap="butt"/>
<polyline points="617.6,1395 617.6,1427 633,1432 658.7,1428.5 658.7,1392" fill="none" stroke="#686868" stroke-width="6" stroke-linejoin="miter" stroke-linecap="butt"/>
<polyline points="903.5,1372 903.5,1403.6 917,1407.5 943,1405 943,1369" fill="none" stroke="#686868" stroke-width="6" stroke-linejoin="miter" stroke-linecap="butt"/>
<polygon points="1236.2,1184.7 1233.9,1261.3 1233.9,1338 1239.5,1338 1239.5,1261.3 1237.2,1184.7" fill="#686868"/>
<polygon points="1276.7,1182 1274.5,1259.3 1274.5,1350 1280,1350 1280,1259.3 1277.7,1182" fill="#686868"/>
<polyline points="1108.5,1353 1108.5,1366.8 1234.1,1401.3 1281,1396.9" fill="none" stroke="#686868" stroke-width="7.5" stroke-linejoin="miter" stroke-linecap="butt"/>
<line x1="1236.5" y1="1338" x2="1236.5" y2="1399" stroke="#686868" stroke-width="2" stroke-linecap="butt"/>
<line x1="1277.5" y1="1348" x2="1277.5" y2="1398.5" stroke="#686868" stroke-width="7.6" stroke-linecap="butt"/>
<line x1="1147.3" y1="1350.8" x2="1236.3" y2="1343.2" stroke="#686868" stroke-width="6.5" stroke-linecap="butt"/>
<line x1="1147.3" y1="1355" x2="1232" y2="1375.8" stroke="#686868" stroke-width="6.5" stroke-linecap="butt"/>
<line x1="1231.4" y1="1343" x2="1231.4" y2="1377.5" stroke="#686868" stroke-width="7.6" stroke-linecap="butt"/>
<path d="M1112,1352.5 Q1129.7,1356.2 1147,1351 Q1129.3,1347.3 1112,1352.5Z" fill="#686868" stroke="#686868" stroke-width="0.8"/>
<polygon points="1113.6,1360 1231,1389.5 1231.8,1385.9 1113.8,1359" fill="#686868"/>
<line x1="234" y1="1207" x2="234" y2="1380" stroke="#686868" stroke-width="2" stroke-linecap="butt" stroke-dasharray="11 12"/>
<polyline points="232,1379.6 585,1356.7 682,1383" fill="none" stroke="#686868" stroke-width="2" stroke-linejoin="miter" stroke-linecap="butt" stroke-dasharray="11 12"/>
<polyline points="232,1379.6 277.5,1406" fill="none" stroke="#686868" stroke-width="2" stroke-linejoin="miter" stroke-linecap="butt" stroke-dasharray="11 12"/>
<line x1="585" y1="1214.6" x2="585" y2="1354" stroke="#686868" stroke-width="2" stroke-linecap="butt" stroke-dasharray="11 12"/>
<polyline points="585,1262.8 682,1256" fill="none" stroke="#686868" stroke-width="2" stroke-linejoin="miter" stroke-linecap="butt" stroke-dasharray="11 12"/>
<polyline points="585,1263 682,1287" fill="none" stroke="#686868" stroke-width="2" stroke-linejoin="miter" stroke-linecap="butt" stroke-dasharray="11 12"/>
<polyline points="290,1418 346,1416" fill="none" stroke="#686868" stroke-width="2" stroke-linejoin="miter" stroke-linecap="butt" stroke-dasharray="11 12"/>
<line x1="870.7" y1="1245" x2="870.7" y2="1315.4" stroke="#686868" stroke-width="2" stroke-linecap="butt" stroke-dasharray="11 12"/>
<polyline points="870.7,1326.7 1148,1303.3 1279.4,1339.7" fill="none" stroke="#686868" stroke-width="2" stroke-linejoin="miter" stroke-linecap="butt" stroke-dasharray="11 12"/>
<polyline points="870.7,1326.7 979.2,1360.7" fill="none" stroke="#686868" stroke-width="2" stroke-linejoin="miter" stroke-linecap="butt" stroke-dasharray="11 12"/>
<line x1="1147.8" y1="1188.5" x2="1147.8" y2="1303" stroke="#686868" stroke-width="2" stroke-linecap="butt" stroke-dasharray="11 12"/>
</g>
<g stroke="#e9292f" stroke-width="7.8" stroke-linecap="butt" stroke-linejoin="miter" fill="none">
<polyline points="225,231 299,217.5 1245,255.5"/>
<line x1="191.5" y1="270" x2="191.5" y2="740"/>
<line x1="402.5" y1="275" x2="402.5" y2="484"/>
<line x1="434" y1="495" x2="434" y2="692"/>
<line x1="236" y1="667.5" x2="299" y2="702.5"/>
<line x1="312" y1="705.5" x2="702.5" y2="668.7"/>
<line x1="371.5" y1="707" x2="371.5" y2="778"/>
<line x1="970" y1="464" x2="1202.5" y2="458"/>
<polyline points="955.7,847.5 1096,768.9 1248.3,852.4"/>
<line x1="1033.3" y1="847.5" x2="1033.3" y2="893.2"/>
<polyline points="956.3,1623.8 1096.6,1545.2 1248.9,1628.7"/>
<line x1="1033.9" y1="1623.8" x2="1033.9" y2="1669.5"/>
<polyline points="2173.8,1668.2 2393.1,1549.7 2545,1630.3"/>
<line x1="2330.1" y1="1626.2" x2="2330.1" y2="1671.5"/>
<polyline points="1461.5,300 2151,264.9 2500.8,293.4"/>
<line x1="1431.7" y1="352.4" x2="1431.7" y2="729.4"/>
<line x1="1842.9" y1="512.8" x2="2144.6" y2="592.6"/>
<line x1="1755.2" y1="649.6" x2="2144.6" y2="605.9"/>
<line x1="1839" y1="696" x2="2144.6" y2="652.7"/>
<line x1="2390" y1="371" x2="2390" y2="622.7"/>
<line x1="2158.9" y1="559.3" x2="2485.6" y2="525.1"/>
<line x1="2158.9" y1="641" x2="2421" y2="600.7"/>
<line x1="1839" y1="729.4" x2="1839" y2="840.8"/>
<polyline points="1432.5,1000.7 1506.3,981.7 2116.2,1010.6"/>
<line x1="1398.3" y1="1039.6" x2="1398.3" y2="1646"/>
<line x1="1581.4" y1="1624.3" x2="1581.4" y2="1698.5"/>
<polyline points="225.8,1148.4 1151.2,1124.8 1285.3,1136.4"/>
<line x1="194.7" y1="1189.5" x2="194.7" y2="1440"/>
<line x1="381.2" y1="1219.4" x2="381.2" y2="1411"/>
<polyline points="231.6,1369.4 277.7,1401.9 682.5,1371.3"/>
<line x1="350.6" y1="1416.8" x2="350.6" y2="1484"/>
<line x1="683" y1="1284.9" x2="949.8" y2="1271.3"/>
<line x1="845.8" y1="1247.6" x2="949.8" y2="1274.7"/>
<line x1="946" y1="1197.8" x2="946" y2="1274.7"/>
<line x1="946" y1="1267.5" x2="979.2" y2="1266.8"/>
<line x1="981.5" y1="1356.1" x2="1236" y2="1336.5"/>
</g>
<g stroke="#000" stroke-width="2" fill="none">
<line x1="225" y1="231" x2="225" y2="271"/>
<line x1="299" y1="217.5" x2="299" y2="256"/>
<line x1="1245" y1="257" x2="1245" y2="287"/>
<line x1="190" y1="270.5" x2="225" y2="270.5"/>
<line x1="192" y1="739.5" x2="236" y2="735"/>
<line x1="741.5" y1="546.5" x2="944" y2="893"/>
<line x1="955.7" y1="849.5" x2="955.7" y2="894.2"/>
<line x1="1096.6" y1="776.8" x2="1096.6" y2="810.6"/>
<line x1="1247.9" y1="854.4" x2="1247.9" y2="865.4"/>
<line x1="956.3" y1="1625.8" x2="956.3" y2="1670.5"/>
<line x1="1097.2" y1="1553.1" x2="1097.2" y2="1586.9"/>
<line x1="1248.5" y1="1630.7" x2="1248.5" y2="1641.7"/>
<line x1="2173.8" y1="1671" x2="2173.8" y2="1715.7"/>
<line x1="2393.6" y1="1554.3" x2="2393.6" y2="1588.2"/>
<line x1="2544.5" y1="1633" x2="2544.5" y2="1643.8"/>
<line x1="1461.5" y1="303.5" x2="1461.5" y2="349.7"/>
<line x1="1433.5" y1="352.4" x2="1461.5" y2="349.7"/>
<line x1="2151" y1="268" x2="2151" y2="308"/>
<line x1="2500.8" y1="295" x2="2500.8" y2="343"/>
<line x1="1433.8" y1="727" x2="1475" y2="722"/>
<line x1="1432.5" y1="1002.5" x2="1432.5" y2="1040.5"/>
<line x1="1506.3" y1="986.2" x2="1506.3" y2="1014.3"/>
<line x1="2115.5" y1="1014" x2="2115.5" y2="1045"/>
<line x1="1398" y1="1040.5" x2="1432.5" y2="1040.5"/>
<line x1="1401.6" y1="1645.3" x2="1441.4" y2="1639.5"/>
<line x1="1663.2" y1="1573.7" x2="2163" y2="1715.2"/>
<line x1="225.4" y1="1150.7" x2="225.4" y2="1188.6"/>
<line x1="197.9" y1="1190" x2="225.4" y2="1188.6"/>
<line x1="198" y1="1439.4" x2="234.5" y2="1436.2"/>
<line x1="1151.8" y1="1129" x2="1151.8" y2="1157.5"/>
<line x1="1285.2" y1="1139" x2="1285.2" y2="1170.8"/>
<line x1="758.6" y1="1363.4" x2="951" y2="1676"/>
</g>
<g>
<g transform="translate(218.5,226) rotate(-11.8)"><text class="b" x="-0.9" y="0" font-size="62" textLength="69" lengthAdjust="spacingAndGlyphs">40</text><text class="r" x="67" y="0" font-size="62" textLength="95.3" lengthAdjust="spacingAndGlyphs">cm</text></g>
<g transform="translate(743.3,224.6) rotate(2.1)"><text class="b" x="-3.9" y="0" font-size="62" textLength="103.5" lengthAdjust="spacingAndGlyphs">180</text><text class="r" x="98.5" y="0" font-size="62" textLength="95.3" lengthAdjust="spacingAndGlyphs">cm</text></g>
<g transform="translate(181.1,538) rotate(-90)"><text class="b" x="-2.7" y="0" font-size="62" textLength="69" lengthAdjust="spacingAndGlyphs">74</text><text class="r" x="65.3" y="0" font-size="62" textLength="95.3" lengthAdjust="spacingAndGlyphs">cm</text></g>
<g transform="translate(408.4,347.9) rotate(90)"><text class="b" x="-1.4" y="0" font-size="62" textLength="69" lengthAdjust="spacingAndGlyphs">30</text><text class="r" x="66.5" y="0" font-size="62" textLength="95.3" lengthAdjust="spacingAndGlyphs">cm</text></g>
<g transform="translate(440.6,553.9) rotate(90)"><text class="b" x="-2.2" y="0" font-size="62" textLength="69" lengthAdjust="spacingAndGlyphs">29</text><text class="r" x="65.8" y="0" font-size="62" textLength="95.3" lengthAdjust="spacingAndGlyphs">cm</text></g>
<g transform="translate(490,679.3) rotate(-4.7)"><text class="b" x="-2.3" y="0" font-size="62" textLength="69" lengthAdjust="spacingAndGlyphs">61</text><text class="r" x="65.7" y="0" font-size="62" textLength="95.3" lengthAdjust="spacingAndGlyphs">cm</text></g>
<g transform="translate(231.7,648.5) rotate(35.5)"><text class="b" x="-1.4" y="0" font-size="62" textLength="69" lengthAdjust="spacingAndGlyphs">36</text><text class="r" x="66.5" y="0" font-size="62" textLength="95.3" lengthAdjust="spacingAndGlyphs">cm</text></g>
<g transform="translate(382,713.8) rotate(90)"><text class="b" x="-3.9" y="0" font-size="62" textLength="69" lengthAdjust="spacingAndGlyphs">10</text><text class="r" x="64.1" y="0" font-size="62" textLength="95.3" lengthAdjust="spacingAndGlyphs">cm</text></g>
<g transform="translate(1014,455.5) rotate(-1.2)"><text class="b" x="-1.9" y="0" font-size="62" textLength="69" lengthAdjust="spacingAndGlyphs">53</text><text class="r" x="66.1" y="0" font-size="62" textLength="95.3" lengthAdjust="spacingAndGlyphs">cm</text></g>
<g transform="translate(978.2,830) rotate(-28.3)"><text class="b" x="-0.9" y="0" font-size="62" textLength="69" lengthAdjust="spacingAndGlyphs">45</text><text class="r" x="67" y="0" font-size="62" textLength="95.3" lengthAdjust="spacingAndGlyphs">cm</text></g>
<g transform="translate(1142.8,789.7) rotate(29)"><text class="b" x="-1.4" y="0" font-size="62" textLength="69" lengthAdjust="spacingAndGlyphs">33</text><text class="r" x="66.5" y="0" font-size="62" textLength="95.3" lengthAdjust="spacingAndGlyphs">cm</text></g>
<g transform="translate(1044,833.5) rotate(90)"><text class="b" x="-2.9" y="0" font-size="62" textLength="45.9" lengthAdjust="spacingAndGlyphs">9</text><text class="r" x="42" y="0" font-size="62" textLength="72.7" lengthAdjust="spacingAndGlyphs">cm</text></g>
<g transform="translate(1780.5,271.2) rotate(-3)"><text class="b" x="-2.2" y="0" font-size="62" textLength="69" lengthAdjust="spacingAndGlyphs">95</text><text class="r" x="65.8" y="0" font-size="62" textLength="95.3" lengthAdjust="spacingAndGlyphs">cm</text></g>
<g transform="translate(2307.7,271.2) rotate(4)"><text class="b" x="-2.3" y="0" font-size="62" textLength="69" lengthAdjust="spacingAndGlyphs">60</text><text class="r" x="65.7" y="0" font-size="62" textLength="95.3" lengthAdjust="spacingAndGlyphs">cm</text></g>
<g transform="translate(1422.7,568.8) rotate(-90)"><text class="b" x="-0.9" y="0" font-size="62" textLength="69" lengthAdjust="spacingAndGlyphs">40</text><text class="r" x="67" y="0" font-size="62" textLength="95.3" lengthAdjust="spacingAndGlyphs">cm</text></g>
<g transform="translate(1950,535.6) rotate(15)"><text class="b" x="-1.9" y="0" font-size="62" textLength="69" lengthAdjust="spacingAndGlyphs">56</text><text class="r" x="66.1" y="0" font-size="62" textLength="95.3" lengthAdjust="spacingAndGlyphs">cm</text></g>
<g transform="translate(1886.6,624.2) rotate(-6.4)"><text class="b" x="-0.9" y="0" font-size="62" textLength="69" lengthAdjust="spacingAndGlyphs">45</text><text class="r" x="67" y="0" font-size="62" textLength="95.3" lengthAdjust="spacingAndGlyphs">cm</text></g>
<g transform="translate(1919.8,678) rotate(-7)"><text class="b" x="-1.4" y="0" font-size="62" textLength="69" lengthAdjust="spacingAndGlyphs">37</text><text class="r" x="66.5" y="0" font-size="62" textLength="95.3" lengthAdjust="spacingAndGlyphs">cm</text></g>
<g transform="translate(2231.7,543.5) rotate(-5)"><text class="b" x="-0.9" y="0" font-size="62" textLength="69" lengthAdjust="spacingAndGlyphs">45</text><text class="r" x="67" y="0" font-size="62" textLength="95.3" lengthAdjust="spacingAndGlyphs">cm</text></g>
<g transform="translate(2241.2,617.9) rotate(-8)"><text class="b" x="-1.4" y="0" font-size="62" textLength="69" lengthAdjust="spacingAndGlyphs">37</text><text class="r" x="66.5" y="0" font-size="62" textLength="95.3" lengthAdjust="spacingAndGlyphs">cm</text></g>
<g transform="translate(2382,508.7) rotate(-90)"><text class="b" x="-2.2" y="0" font-size="62" textLength="120.7" lengthAdjust="spacingAndGlyphs">26,5</text><text class="r" x="117.5" y="0" font-size="62" textLength="90.9" lengthAdjust="spacingAndGlyphs">cm</text></g>
<g transform="translate(1847,754.5) rotate(90)"><text class="b" x="-3.9" y="0" font-size="62" textLength="69" lengthAdjust="spacingAndGlyphs">10</text><text class="r" x="64.1" y="0" font-size="62" textLength="95.3" lengthAdjust="spacingAndGlyphs">cm</text></g>
<g transform="translate(1423.7,993) rotate(-15)"><text class="b" x="-0.9" y="0" font-size="62" textLength="69" lengthAdjust="spacingAndGlyphs">40</text><text class="r" x="67" y="0" font-size="62" textLength="95.3" lengthAdjust="spacingAndGlyphs">cm</text></g>
<g transform="translate(1769,979) rotate(2.8)"><text class="b" x="-3.7" y="0" font-size="62" textLength="98.3" lengthAdjust="spacingAndGlyphs">100</text><text class="r" x="93.6" y="0" font-size="62" textLength="95.3" lengthAdjust="spacingAndGlyphs">cm</text></g>
<g transform="translate(1389,1395.4) rotate(-90)"><text class="b" x="-2.2" y="0" font-size="62" textLength="69" lengthAdjust="spacingAndGlyphs">94</text><text class="r" x="65.8" y="0" font-size="62" textLength="95.3" lengthAdjust="spacingAndGlyphs">cm</text></g>
<g transform="translate(1588,1633.4) rotate(90)"><text class="b" x="-3.9" y="0" font-size="62" textLength="69" lengthAdjust="spacingAndGlyphs">10</text><text class="r" x="64.1" y="0" font-size="62" textLength="95.3" lengthAdjust="spacingAndGlyphs">cm</text></g>
<g transform="translate(2237,1624.5) rotate(-28.4)"><text class="b" x="-2.7" y="0" font-size="62" textLength="69" lengthAdjust="spacingAndGlyphs">74</text><text class="r" x="65.3" y="0" font-size="62" textLength="95.3" lengthAdjust="spacingAndGlyphs">cm</text></g>
<g transform="translate(2447,1567) rotate(28)"><text class="b" x="-1.4" y="0" font-size="62" textLength="69" lengthAdjust="spacingAndGlyphs">33</text><text class="r" x="66.5" y="0" font-size="62" textLength="95.3" lengthAdjust="spacingAndGlyphs">cm</text></g>
<g transform="translate(2336,1604) rotate(90)"><text class="b" x="-3.9" y="0" font-size="62" textLength="69" lengthAdjust="spacingAndGlyphs">12</text><text class="r" x="64.1" y="0" font-size="62" textLength="95.3" lengthAdjust="spacingAndGlyphs">cm</text></g>
<g transform="translate(688.8,1124.4) rotate(-1.5)"><text class="b" x="-3.9" y="0" font-size="62" textLength="103.5" lengthAdjust="spacingAndGlyphs">180</text><text class="r" x="98.5" y="0" font-size="62" textLength="95.3" lengthAdjust="spacingAndGlyphs">cm</text></g>
<g transform="translate(1171.7,1121.2) rotate(4.7)"><text class="b" x="-0.9" y="0" font-size="62" textLength="69" lengthAdjust="spacingAndGlyphs">40</text><text class="r" x="67" y="0" font-size="62" textLength="95.3" lengthAdjust="spacingAndGlyphs">cm</text></g>
<g transform="translate(185.4,1349.2) rotate(-90)"><text class="b" x="-0.9" y="0" font-size="62" textLength="69" lengthAdjust="spacingAndGlyphs">40</text><text class="r" x="67" y="0" font-size="62" textLength="95.3" lengthAdjust="spacingAndGlyphs">cm</text></g>
<g transform="translate(201.6,1317) rotate(40)"><text class="b" x="-1.4" y="0" font-size="62" textLength="69" lengthAdjust="spacingAndGlyphs">36</text><text class="r" x="66.5" y="0" font-size="62" textLength="95.3" lengthAdjust="spacingAndGlyphs">cm</text></g>
<g transform="translate(390.2,1222.5) rotate(90)"><text class="b" x="-2.2" y="0" font-size="62" textLength="69" lengthAdjust="spacingAndGlyphs">26</text><text class="r" x="65.8" y="0" font-size="62" textLength="95.3" lengthAdjust="spacingAndGlyphs">cm</text></g>
<g transform="translate(441.8,1376) rotate(-4.3)"><text class="b" x="-1.9" y="0" font-size="62" textLength="69" lengthAdjust="spacingAndGlyphs">59</text><text class="r" x="66.1" y="0" font-size="62" textLength="95.3" lengthAdjust="spacingAndGlyphs">cm</text></g>
<g transform="translate(357.3,1419.4) rotate(90)"><text class="b" x="-3.9" y="0" font-size="62" textLength="69" lengthAdjust="spacingAndGlyphs">10</text><text class="r" x="64.1" y="0" font-size="62" textLength="95.3" lengthAdjust="spacingAndGlyphs">cm</text></g>
<g transform="translate(650.8,1276.4) rotate(-3)"><text class="b" x="-1.9" y="0" font-size="62" textLength="69" lengthAdjust="spacingAndGlyphs">54</text><text class="r" x="66.1" y="0" font-size="62" textLength="95.3" lengthAdjust="spacingAndGlyphs">cm</text></g>
<g transform="translate(775.2,1213.7) rotate(16)"><text class="b" x="-1.4" y="0" font-size="62" textLength="69" lengthAdjust="spacingAndGlyphs">35</text><text class="r" x="66.5" y="0" font-size="62" textLength="95.3" lengthAdjust="spacingAndGlyphs">cm</text></g>
<g transform="translate(970.2,1174) rotate(90)"><text class="b" x="-3.9" y="0" font-size="62" textLength="69" lengthAdjust="spacingAndGlyphs">12</text><text class="r" x="64.1" y="0" font-size="62" textLength="95.3" lengthAdjust="spacingAndGlyphs">cm</text></g>
<g transform="translate(1072,1340.4) rotate(-5)"><text class="b" x="-1.9" y="0" font-size="62" textLength="69" lengthAdjust="spacingAndGlyphs">52</text><text class="r" x="66.1" y="0" font-size="62" textLength="95.3" lengthAdjust="spacingAndGlyphs">cm</text></g>
<g transform="translate(979.8,1607.3) rotate(-28.3)"><text class="b" x="-0.9" y="0" font-size="62" textLength="69" lengthAdjust="spacingAndGlyphs">48</text><text class="r" x="67" y="0" font-size="62" textLength="95.3" lengthAdjust="spacingAndGlyphs">cm</text></g>
<g transform="translate(1143.4,1566) rotate(29)"><text class="b" x="-1.4" y="0" font-size="62" textLength="69" lengthAdjust="spacingAndGlyphs">33</text><text class="r" x="66.5" y="0" font-size="62" textLength="95.3" lengthAdjust="spacingAndGlyphs">cm</text></g>
<g transform="translate(1044.6,1609.8) rotate(90)"><text class="b" x="-2.9" y="0" font-size="62" textLength="45.9" lengthAdjust="spacingAndGlyphs">9</text><text class="r" x="42" y="0" font-size="62" textLength="72.7" lengthAdjust="spacingAndGlyphs">cm</text></g>
</g>
</svg></body></html>
